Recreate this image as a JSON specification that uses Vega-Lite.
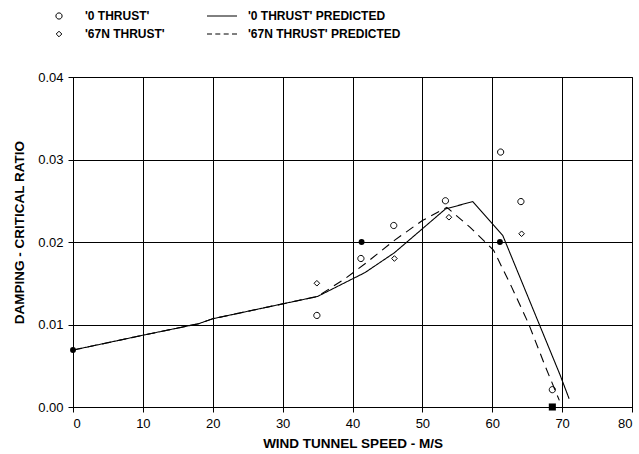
{
  "$schema": "https://vega.github.io/schema/vega-lite/v6.json",
  "width": 559,
  "height": 330,
  "autosize": {"type": "none"},
  "padding": {"left": 73, "top": 77, "right": 7, "bottom": 47},
  "background": "white",
  "config": {
    "font": "Liberation Sans",
    "view": {"stroke": "black", "strokeWidth": 1},
    "axis": {
      "gridColor": "black", "gridOpacity": 1, "gridWidth": 1,
      "domainColor": "black", "tickColor": "black", "tickSize": 5,
      "labelColor": "black", "titleColor": "black",
      "labelFont": "Liberation Sans", "labelFontSize": 13,
      "titleFont": "Liberation Sans", "titleFontSize": 13.5, "titleFontWeight": "bold"
    },
    "legend": {
      "labelFont": "Liberation Sans", "labelFontSize": 12, "labelFontWeight": "bold", "labelColor": "black"
    }
  },
  "datasets": {
    "points": [
      {"series": "'0 THRUST'", "speed": 34.9, "damping": 0.0111},
      {"series": "'0 THRUST'", "speed": 41.2, "damping": 0.0180},
      {"series": "'0 THRUST'", "speed": 45.9, "damping": 0.0220},
      {"series": "'0 THRUST'", "speed": 53.3, "damping": 0.0250},
      {"series": "'0 THRUST'", "speed": 61.2, "damping": 0.0309},
      {"series": "'0 THRUST'", "speed": 64.1, "damping": 0.0249},
      {"series": "'0 THRUST'", "speed": 68.6, "damping": 0.0021},
      {"series": "'67N THRUST'", "speed": 34.9, "damping": 0.0150},
      {"series": "'67N THRUST'", "speed": 46.0, "damping": 0.0180},
      {"series": "'67N THRUST'", "speed": 53.8, "damping": 0.0230},
      {"series": "'67N THRUST'", "speed": 64.2, "damping": 0.0210}
    ],
    "lines": [
      {"series": "'0 THRUST' PREDICTED", "speed": 0, "damping": 0.0069},
      {"series": "'0 THRUST' PREDICTED", "speed": 10, "damping": 0.0087},
      {"series": "'0 THRUST' PREDICTED", "speed": 18, "damping": 0.0101},
      {"series": "'0 THRUST' PREDICTED", "speed": 20, "damping": 0.0107},
      {"series": "'0 THRUST' PREDICTED", "speed": 30, "damping": 0.0125},
      {"series": "'0 THRUST' PREDICTED", "speed": 35, "damping": 0.0134},
      {"series": "'0 THRUST' PREDICTED", "speed": 41.8, "damping": 0.0163},
      {"series": "'0 THRUST' PREDICTED", "speed": 46, "damping": 0.0187},
      {"series": "'0 THRUST' PREDICTED", "speed": 53.3, "damping": 0.0240},
      {"series": "'0 THRUST' PREDICTED", "speed": 57.2, "damping": 0.0249},
      {"series": "'0 THRUST' PREDICTED", "speed": 61.5, "damping": 0.0208},
      {"series": "'0 THRUST' PREDICTED", "speed": 69.7, "damping": 0.0039},
      {"series": "'0 THRUST' PREDICTED", "speed": 71, "damping": 0.0010},
      {"series": "'67N THRUST' PREDICTED", "speed": 0, "damping": 0.0069},
      {"series": "'67N THRUST' PREDICTED", "speed": 10, "damping": 0.0087},
      {"series": "'67N THRUST' PREDICTED", "speed": 18, "damping": 0.0101},
      {"series": "'67N THRUST' PREDICTED", "speed": 20, "damping": 0.0107},
      {"series": "'67N THRUST' PREDICTED", "speed": 30, "damping": 0.0125},
      {"series": "'67N THRUST' PREDICTED", "speed": 35, "damping": 0.0134},
      {"series": "'67N THRUST' PREDICTED", "speed": 39, "damping": 0.0156},
      {"series": "'67N THRUST' PREDICTED", "speed": 42, "damping": 0.0175},
      {"series": "'67N THRUST' PREDICTED", "speed": 46, "damping": 0.0202},
      {"series": "'67N THRUST' PREDICTED", "speed": 50, "damping": 0.0226},
      {"series": "'67N THRUST' PREDICTED", "speed": 53.5, "damping": 0.0242},
      {"series": "'67N THRUST' PREDICTED", "speed": 56.8, "damping": 0.0218},
      {"series": "'67N THRUST' PREDICTED", "speed": 60.2, "damping": 0.0190},
      {"series": "'67N THRUST' PREDICTED", "speed": 62.8, "damping": 0.0145},
      {"series": "'67N THRUST' PREDICTED", "speed": 65.2, "damping": 0.0101},
      {"series": "'67N THRUST' PREDICTED", "speed": 67.6, "damping": 0.0049},
      {"series": "'67N THRUST' PREDICTED", "speed": 69.6, "damping": 0.0008}
    ],
    "dots": [
      {"speed": 0, "damping": 0.0069},
      {"speed": 41.3, "damping": 0.0200},
      {"speed": 61.1, "damping": 0.0200}
    ],
    "squares": [
      {"speed": 68.6, "damping": 0.0}
    ]
  },
  "encoding": {
    "x": {
      "field": "speed", "type": "quantitative",
      "scale": {"domain": [0, 80], "nice": false},
      "axis": {"values": [0, 10, 20, 30, 40, 50, 60, 70, 80], "title": "WIND TUNNEL SPEED - M/S", "titlePadding": 6, "labelPadding": 5}
    },
    "y": {
      "field": "damping", "type": "quantitative",
      "scale": {"domain": [0, 0.04], "nice": false},
      "axis": {"values": [0, 0.01, 0.02, 0.03, 0.04], "format": ".2f", "title": "DAMPING - CRITICAL RATIO", "labelPadding": 5, "titleX": -47, "titleY": 155}
    }
  },
  "layer": [
    {
      "data": {"name": "lines"},
      "mark": {"type": "line", "color": "black", "strokeWidth": 1.1},
      "encoding": {
        "strokeDash": {
          "field": "series", "type": "nominal",
          "scale": {"domain": ["'0 THRUST' PREDICTED", "'67N THRUST' PREDICTED"], "range": [[1, 0], [9, 6]]},
          "legend": null
        }
      }
    },
    {
      "data": {"name": "points"},
      "mark": {"type": "point", "filled": false, "color": "black", "strokeWidth": 1, "size": 100, "opacity": 1},
      "encoding": {
        "shape": {
          "field": "series", "type": "nominal",
          "scale": {
            "domain": ["'0 THRUST'", "'67N THRUST'", "'0 THRUST' PREDICTED", "'67N THRUST' PREDICTED"],
            "range": [
              "M-0.62,0A0.62,0.62,0,1,1,0.62,0A0.62,0.62,0,1,1,-0.62,0Z",
              "M0,-0.56L0.56,0L0,0.56L-0.56,0Z",
              "M-3,0H3",
              "M-3,0H-2M-1.34,0H-0.34M0.34,0H1.34M2,0H3"
            ]
          },
          "legend": {
            "title": null, "orient": "none", "legendX": -20, "legendY": -67,
            "columns": 2, "columnPadding": 40, "rowPadding": 6,
            "symbolSize": 100, "symbolStrokeWidth": 1, "symbolStrokeColor": "black",
            "symbolFillColor": "transparent", "labelOffset": 20, "padding": 0
          }
        }
      }
    },
    {
      "data": {"name": "dots"},
      "mark": {"type": "point", "shape": "circle", "filled": true, "color": "black", "size": 35, "opacity": 1}
    },
    {
      "data": {"name": "squares"},
      "mark": {"type": "point", "shape": "square", "filled": true, "color": "black", "size": 50, "opacity": 1}
    }
  ]
}
